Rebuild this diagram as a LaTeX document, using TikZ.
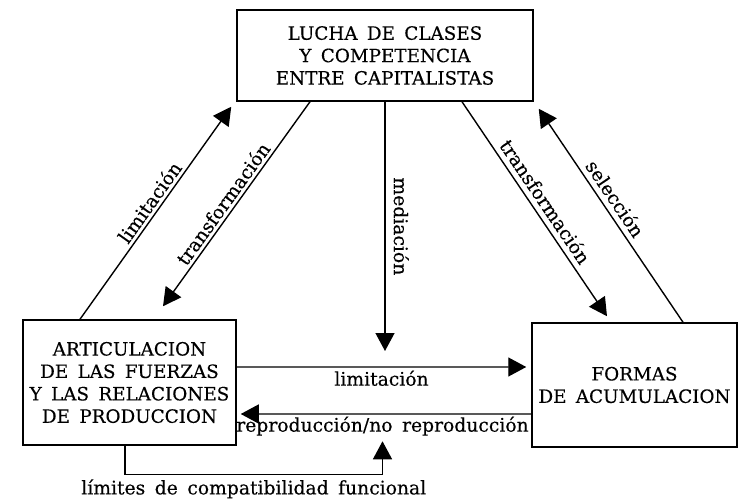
\documentclass[tikz,border=0pt]{standalone}
\usepackage{fontspec}
\setmainfont{DejaVu Serif}[WordSpace=1.6, FakeBold=0.3]
\usetikzlibrary{arrows.meta}
\begin{document}
\begin{tikzpicture}[x=1bp,y=-1bp,
  box/.style={draw, line width=1.5bp, inner sep=0pt, align=center, font=\fontsize{18.4}{22.5}\selectfont},
  arr/.style={line width=1.4bp, -{Triangle[length=18bp,width=19bp]}},
  lbl/.style={font=\fontsize{18.8}{21}\selectfont, inner sep=3bp}]
\useasboundingbox (0,0) rectangle (738,504);
\node[box, minimum width=296bp, minimum height=91bp] (top) at (385,55.5)
  {LUCHA DE CLASES\\Y COMPETENCIA\\ENTRE CAPITALISTAS};
\node[box, minimum width=213bp, minimum height=125bp] (left) at (129.5,382.5)
  {ARTICULACION\\DE LAS FUERZAS\\Y LAS RELACIONES\\DE PRODUCCION};
\node[box, minimum width=205bp, minimum height=124bp] (right) at (634.5,385)
  {FORMAS\\DE ACUMULACION};
\coordinate (medEnd) at (385,351);
\draw[arr] ([xshift=-49.5bp]left.north) -- node[lbl,sloped,above,pos=0.52]{limitación} ([shift={(-5,5)}]top.south west);
\draw[arr] ([xshift=-75bp]top.south) -- node[lbl,sloped,above,pos=0.53]{transformación} ([shift={(33.5,-13)}]left.north);
\draw[arr] (top.south) -- node[lbl,sloped,above,pos=0.5,inner sep=8bp]{mediación} (medEnd);
\draw[arr] ([xshift=77bp]top.south) -- node[lbl,sloped,above,pos=0.5,inner sep=5bp]{transformación} ([shift={(-27.5,-6)}]right.north);
\draw[arr] ([xshift=48.5bp]right.north) -- node[lbl,sloped,above,pos=0.545,inner sep=5bp]{selección} ([shift={(5,7)}]top.south east);
\draw[arr] ([yshift=15.5bp]left.east) -- node[lbl,below,pos=0.5]{limitación} ([shift={(-5,-18)}]right.west);
\draw[arr] ([yshift=-29bp]right.west) -- node[lbl,below,inner sep=2bp,xshift=-3.5bp] (repro) {reproducción/no reproducción} ([shift={(4,31.5)}]left.east);
\draw[arr, shorten >=3bp] ([xshift=-4.5bp]left.south) -- ++(0,29) -| node[lbl,below,pos=0.25,inner sep=4bp]{límites de compatibilidad funcional} (repro.south);
\end{tikzpicture}
\end{document}
